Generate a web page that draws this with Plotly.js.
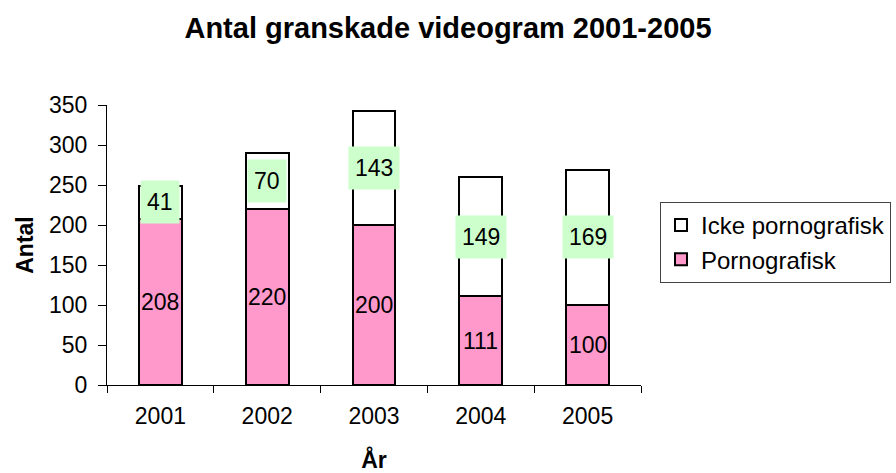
<!DOCTYPE html>
<html>
<head>
<meta charset="utf-8">
<script src="https://cdn.plot.ly/plotly-3.0.1.min.js"></script>
<style>html,body{margin:0;padding:0;background:#fff;}#chart{width:896px;height:473px;}</style>
</head>
<body>
<div id="chart"></div>
<script>
const years = ['2001', '2002', '2003', '2004', '2005'];
const porn = [208, 220, 200, 111, 100];
const nonPorn = [41, 70, 143, 149, 169];
const seriesNames = ['Pornografisk', 'Icke pornografisk'];
const yTicks = [0, 50, 100, 150, 200, 250, 300, 350];

const FONT = 'Liberation Sans, Arial, sans-serif';

const traces = [
  {
    type: 'bar', name: seriesNames[0], x: years, y: porn,
    marker: {color: '#FF99CC', line: {color: '#000', width: 2}},
    hoverinfo: 'none'
  },
  {
    type: 'bar', name: seriesNames[1], x: years, y: nonPorn,
    marker: {color: '#FFFFFF', line: {color: '#000', width: 2}},
    hoverinfo: 'none'
  }
];

const annotations = [];
years.forEach((yr, i) => {
  annotations.push({
    x: i, y: porn[i] / 2, xref: 'x', yref: 'y',
    text: String(porn[i]), showarrow: false,
    font: {family: FONT, size: 23, color: '#000'}
  });
  annotations.push({
    x: i, y: porn[i] + nonPorn[i] / 2, xref: 'x', yref: 'y',
    text: String(nonPorn[i]), showarrow: false,
    bgcolor: '#CCFFCC', borderpad: 6, height: 30,
    font: {family: FONT, size: 23, color: '#000'}
  });
});

const layout = {
  width: 896, height: 473,
  margin: {l: 107, r: 255, t: 105, b: 88, pad: 0, autoexpand: false},
  paper_bgcolor: '#fff', plot_bgcolor: '#fff',
  barmode: 'stack', bargap: 0.6,
  font: {family: FONT, color: '#000'},
  showlegend: true,
  title: {
    text: '<b>Antal granskade videogram 2001-2005</b>',
    font: {family: FONT, size: 29, color: '#000'},
    x: 0.5, xref: 'container', xanchor: 'center',
    y: 1 - 28 / 473, yref: 'container', yanchor: 'middle'
  },
  xaxis: {
    type: 'category', range: [-0.5, 4.5],
    showline: true, linecolor: '#000', linewidth: 1,
    ticks: 'outside', tickson: 'boundaries', ticklen: 7, tickcolor: '#000', tickwidth: 1,
    ticklabelstandoff: 10,
    tickfont: {family: FONT, size: 23, color: '#000'},
    showgrid: false, zeroline: false, fixedrange: true,
    title: {text: '<b>År</b>', font: {family: FONT, size: 23, color: '#000'}, standoff: 24}
  },
  yaxis: {
    range: [0, 350], tickvals: yTicks, ticktext: yTicks.map(String),
    showline: true, linecolor: '#000', linewidth: 1,
    ticks: 'outside', ticklen: 8, tickcolor: '#000', tickwidth: 1,
    ticklabelstandoff: 6,
    tickfont: {family: FONT, size: 23, color: '#000'},
    showgrid: false, zeroline: false, fixedrange: true,
    title: {text: '<b>Antal</b>', font: {family: FONT, size: 23, color: '#000'}, standoff: 8}
  },
  legend: {
    x: (660 - 107) / 534, xanchor: 'left',
    y: (385 - 202) / 280, yanchor: 'top',
    bgcolor: '#fff', bordercolor: '#444', borderwidth: 1,
    font: {family: FONT, size: 24, color: '#000'},
    traceorder: 'reversed', itemwidth: 30
  },
  annotations: annotations
};

Plotly.newPlot('chart', traces, layout, {displayModeBar: false, staticPlot: true});
</script>
</body>
</html>
